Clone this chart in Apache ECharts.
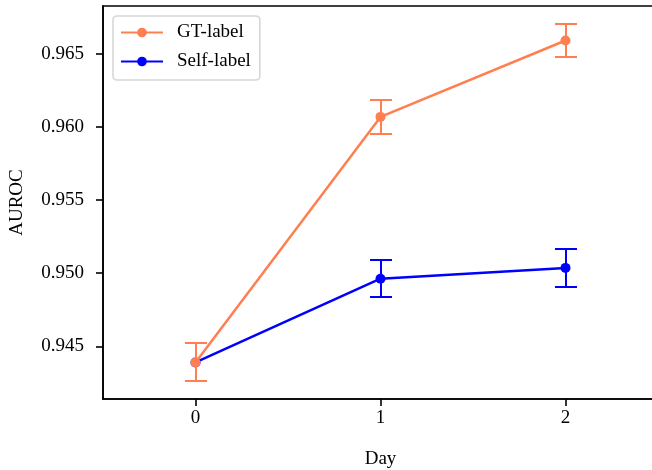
<!DOCTYPE html>
<html>
<head>
<meta charset="utf-8">
<script src="https://cdn.jsdelivr.net/npm/echarts@6/dist/echarts.min.js"></script>
<style>
  html, body { margin: 0; padding: 0; background: #fff; }
  #chart { width: 652px; height: 470px; }
</style>
</head>
<body>
<div id="chart"></div>
<script>
// values
const days = [0, 1, 2];
const gtMean = [0.94390, 0.96068, 0.96590];
const gtErr = [0.00130, 0.00114, 0.00113];
const selfMean = [0.94390, 0.94962, 0.95036];
const selfErr = [0.00130, 0.00128, 0.00131];
const yTicks = [0.945, 0.950, 0.955, 0.960, 0.965];
const xTicks = [0, 1, 2];

const FONT = 'Liberation Serif';
const GT_COLOR = '#FF7F50';
const SELF_COLOR = '#0000FF';

function points(mean) {
  return days.map((d, i) => [d, mean[i]]);
}
function errRows(mean, err) {
  return days.map((d, i) => [d, mean[i] - err[i], mean[i] + err[i]]);
}

// vertical bar with caps, drawn from the axis coords
// (snapped to whole pixels so the top series fully hides the one beneath)
function errorBar(color) {
  return function (params, api) {
    const lo = api.coord([api.value(0), api.value(1)]).map(Math.round);
    const hi = api.coord([api.value(0), api.value(2)]).map(Math.round);
    const cap = 11;
    const style = { stroke: color, lineWidth: 2 };
    return {
      type: 'group',
      children: [
        { type: 'line', shape: { x1: lo[0], y1: lo[1], x2: hi[0], y2: hi[1] }, style: style },
        { type: 'line', shape: { x1: lo[0] - cap, y1: lo[1], x2: lo[0] + cap, y2: lo[1] }, style: style },
        { type: 'line', shape: { x1: hi[0] - cap, y1: hi[1], x2: hi[0] + cap, y2: hi[1] }, style: style }
      ]
    };
  };
}

const option = {
  animation: false,
  textStyle: { fontFamily: FONT },
  grid: {
    left: 103, top: 6, width: 555, height: 393,
    outerBoundsMode: 'none',
    show: true, borderColor: '#000', borderWidth: 1.6, backgroundColor: 'transparent'
  },
  legend: {
    data: ['GT-label', 'Self-label'],
    orient: 'vertical',
    left: 113, top: 16,
    z: 10,
    padding: [7, 9, 9, 7],
    itemWidth: 42, itemHeight: 12, itemGap: 10,
    backgroundColor: 'rgba(255,255,255,0.8)',
    borderColor: '#d6d6d6', borderWidth: 1.6, borderRadius: 4,
    textStyle: { fontFamily: FONT, fontSize: 19, color: '#000', lineHeight: 18, padding: [0, 0, 0, 9] }
  },
  xAxis: {
    type: 'value',
    min: -0.5, max: 2.5,
    name: 'Day', nameLocation: 'middle', nameGap: 51,
    nameTextStyle: { fontFamily: FONT, fontSize: 19, color: '#000' },
    axisLine: { onZero: false, lineStyle: { color: '#000', width: 1.6 } },
    axisTick: { show: true, length: 7, lineStyle: { color: '#000', width: 1.6 }, customValues: xTicks },
    axisLabel: { fontFamily: FONT, fontSize: 19, color: '#000', margin: 10, customValues: xTicks },
    splitLine: { show: false }
  },
  yAxis: {
    type: 'value',
    min: 0.9414, max: 0.96826,
    name: 'AUROC', nameLocation: 'middle', nameGap: 76, nameRotate: 90,
    nameTextStyle: { fontFamily: FONT, fontSize: 19, color: '#000' },
    axisLine: { show: true, onZero: false, lineStyle: { color: '#000', width: 1.6 } },
    axisTick: { show: true, length: 7, lineStyle: { color: '#000', width: 1.6 }, customValues: yTicks },
    axisLabel: {
      fontFamily: FONT, fontSize: 19, color: '#000', margin: 19,
      customValues: yTicks,
      formatter: v => v.toFixed(3)
    },
    splitLine: { show: false }
  },
  series: [
    {
      name: 'Self-err', type: 'custom', z: 2,
      renderItem: errorBar(SELF_COLOR),
      encode: { x: 0, y: [1, 2] },
      data: errRows(selfMean, selfErr)
    },
    {
      name: 'Self-label', type: 'line', z: 3,
      data: points(selfMean),
      symbol: 'circle', symbolSize: 10,
      lineStyle: { color: SELF_COLOR, width: 2.5 },
      itemStyle: { color: SELF_COLOR }
    },
    {
      name: 'GT-err', type: 'custom', z: 4,
      renderItem: errorBar(GT_COLOR),
      encode: { x: 0, y: [1, 2] },
      data: errRows(gtMean, gtErr)
    },
    {
      name: 'GT-label', type: 'line', z: 5,
      data: points(gtMean),
      symbol: 'circle', symbolSize: 10,
      lineStyle: { color: GT_COLOR, width: 2.5 },
      itemStyle: { color: GT_COLOR }
    }
  ]
};

const chart = echarts.init(document.getElementById('chart'));
chart.setOption(option);
</script>
</body>
</html>
